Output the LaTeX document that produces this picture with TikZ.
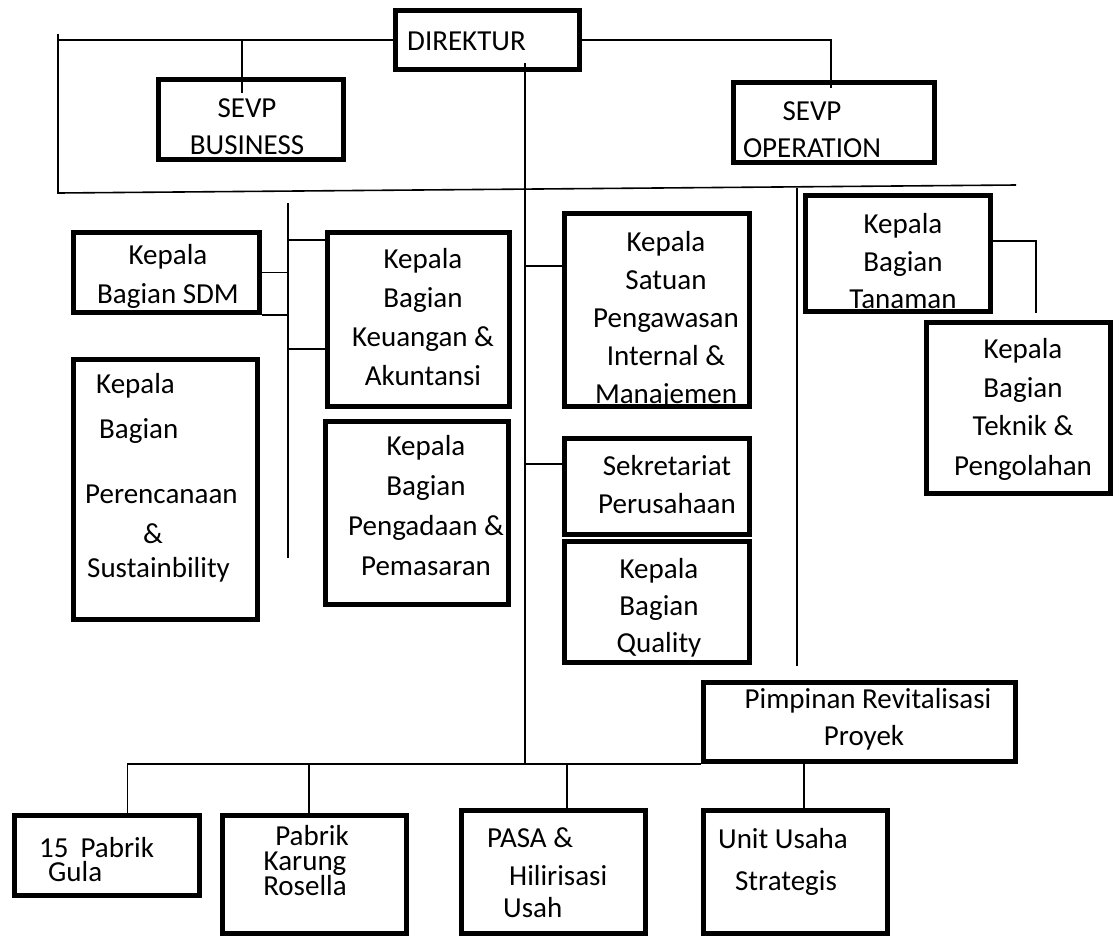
\documentclass[tikz,border=0pt]{standalone}
\usepackage{fontspec}
\setmainfont{Carlito}
\tikzset{
  box/.style={draw,line width=5.5pt,inner sep=0pt},
  txt/.style={inner sep=0pt,align=center,anchor=base,font=\fontsize{29}{39}\selectfont},
  link/.style={line width=1.6pt}
}
\begin{document}
\begin{tikzpicture}[x=1pt,y=-1pt]
\useasboundingbox (0,0) rectangle (1115,938);

% kotak-kotak
\node[box,minimum width=184pt,minimum height=59pt] (dir) at (487.5,40) {};
\node[box,minimum width=185pt,minimum height=80pt] (sevpB) at (251,119.5) {};
\node[box,minimum width=201pt,minimum height=80pt] (sevpO) at (834,122.5) {};
\node[box,minimum width=186pt,minimum height=80pt] (sdm) at (166.5,272.5) {};
\node[box,minimum width=184pt,minimum height=260pt] (renc) at (165.5,489.5) {};
\node[box,minimum width=182pt,minimum height=174pt] (keu) at (418.5,319.5) {};
\node[box,minimum width=183pt,minimum height=183pt] (pengd) at (417,513) {};
\node[box,minimum width=185pt,minimum height=193pt] (spi) at (657,310) {};
\node[box,minimum width=185pt,minimum height=96pt] (sekr) at (657,486.5) {};
\node[box,minimum width=185pt,minimum height=121pt] (qual) at (657,602) {};
\node[box,minimum width=185pt,minimum height=116pt] (tan) at (898,253.5) {};
\node[box,minimum width=184pt,minimum height=171pt] (tek) at (1018.5,408) {};
\node[box,minimum width=312pt,minimum height=79pt] (pimp) at (859.5,722) {};
\node[box,minimum width=185pt,minimum height=80pt] (gula) at (107,855.5) {};
\node[box,minimum width=184pt,minimum height=118pt] (karung) at (314.5,874.5) {};
\node[box,minimum width=184pt,minimum height=123pt] (pasa) at (553.5,872) {};
\node[box,minimum width=184pt,minimum height=123pt] (unit) at (795.5,872) {};

% teks (titik = garis dasar baris terakhir)
\node[txt,anchor=base west] (dirT) at (407,50) {DIREKTUR};
\node[txt] (sevpBT) at (247,154) {SEVP\\[-2pt]BUSINESS};
\node[txt] (sevpOT) at (812,157) {SEVP\\[-2pt]OPERATION};
\node[txt] (sdmT) at (168,303) {Kepala\\Bagian SDM};
\node[txt,align=left,anchor=base west] (rencT) at (85,577)
  {\hspace*{11pt}Kepala\\[6pt]\hspace*{14pt}Bagian\\[26pt]Perencanaan\\[1pt]\hspace*{58pt}\&\\[-5pt]\hspace*{2pt}Sustainbility};
\node[txt] (keuT) at (423,385) {Kepala\\Bagian\\Keuangan \&\\Akuntansi};
\node[txt] (pengdT) at (426,575) {Kepala\\[1pt]Bagian\\[1pt]Pengadaan \&\\[1pt]Pemasaran};
\node[txt] (spiT) at (666,403) {Kepala\\[-1pt]Satuan\\[-1pt]Pengawasan\\[-1pt]Internal \&\\[-1pt]Manajemen};
\node[txt] (sekrT) at (667,513) {Sekretariat\\[-1pt]Perusahaan};
\node[txt] (qualT) at (659,652) {Kepala\\[-2pt]Bagian\\[-2pt]Quality};
\node[txt] (tanT) at (903,308) {Kepala\\[-1pt]Bagian\\[-2pt]Tanaman};
\node[txt] (tekT) at (1023,475) {Kepala\\Bagian\\[-1pt]Teknik \&\\[1pt]Pengolahan};
\node[txt] (pimpT) at (868,745) {Pimpinan Revitalisasi\\[-2pt]\hspace*{-8pt}Proyek};
\node[txt,align=left,anchor=base west] (gulaT) at (39,881) {15\hspace{12pt}Pabrik\\[-15pt]\hspace*{9pt}Gula};
\node[txt] (karungT) at (305,895) {\hspace*{14pt}Pabrik\\[-14pt]Karung\\[-14pt]Rosella};
\node[txt,align=left,anchor=base west] (pasaT) at (487,917) {PASA \&\\[-1pt]\hspace*{22pt}Hilirisasi\\[-7pt]\hspace*{16pt}Usah};
\node[txt] (unitT) at (783,890) {Unit Usaha\\[3pt]\hspace*{6pt}Strategis};

% garis atas
\coordinate (lt) at (58,34);
\coordinate (lb) at (58,193);
\coordinate (rb) at (1016,185);
\draw[link] (lt) -- (lb) -- (rb);
\draw[link] (dir.west) -- (dir.west -| lt);
\coordinate[xshift=-9pt] (bj) at (sevpB.north);
\draw[link] (dir.west -| bj) -- ([yshift=-16pt]bj);
\coordinate[xshift=-3pt] (oj) at (sevpO.north);
\draw[link] (dir.east) -| ([yshift=-8pt]oj);

% garis tengah
\coordinate[xshift=37.5pt] (tj) at (dir.south);
\coordinate (hub) at (tj |- pimp.south);
\draw[link] ([yshift=9pt]tj) -- (hub);
\coordinate[yshift=44pt] (s1) at (spi.west);
\coordinate[yshift=22.5pt] (s2) at (sekr.west);
\draw[link] (hub |- s1) -- (s1);
\draw[link] (hub |- s2) -- (s2);

% bagian kiri
\coordinate (sv) at (288,203);
\coordinate (sb) at (288,558);
\draw[link] (sv) -- (sb);
\draw[link] (sdm.east) -- (sdm.east -| sv);
\draw[link] (sdm.south east) -- (sdm.south east -| sv);
\coordinate[yshift=79.5pt] (k1) at (keu.west);
\coordinate[yshift=-29.5pt] (k2) at (keu.west);
\draw[link] (k1 -| sv) -- (k1);
\draw[link] (k2 -| sv) -- (k2);

% bagian kanan
\coordinate (rv) at (797,188);
\coordinate (rvEnd) at (797,666);
\draw[link] (rv) -- (rvEnd);
\coordinate[yshift=12.5pt] (t1) at (tan.east);
\coordinate[xshift=17.5pt,yshift=7pt] (t2) at (tek.north);
\draw[link] (t1) -| (t2);

% garis bawah
\coordinate[xshift=20.5pt] (gj) at (gula.north);
\draw[link] (gj) |- (pimp.south west);
\coordinate[xshift=-5.5pt] (kj) at (karung.north);
\draw[link] (kj) -- (kj |- hub);
\coordinate[xshift=13.5pt] (pj) at (pasa.north);
\draw[link] (pj) -- (pj |- hub);
\coordinate[xshift=8.5pt] (uj) at (unit.north);
\draw[link] (uj) -- (uj |- pimp.south);
\end{tikzpicture}
\end{document}
